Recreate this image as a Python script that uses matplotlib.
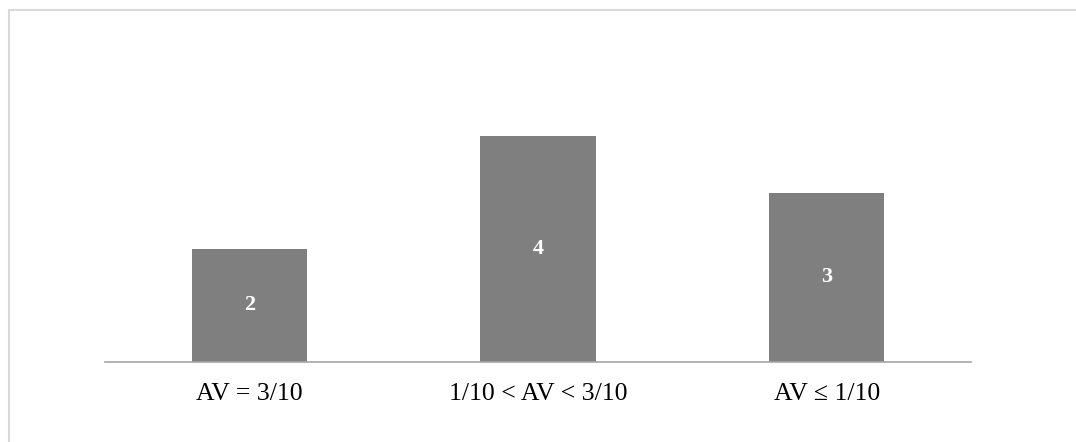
import matplotlib.pyplot as plt
from matplotlib.patches import Rectangle

# donnees
categories = ['AV = 3/10', '1/10 < AV < 3/10', 'AV ≤ 1/10']
valeurs = [2, 4, 3]

W, H = 1076, 442
fig = plt.figure(figsize=(W / 100, H / 100), dpi=100)

# cadre gris clair (seulement haut et gauche visibles)
fig.patches.append(Rectangle((9 / W, -0.1), 1.2, (H - 10) / H + 0.1,
                             transform=fig.transFigure, fill=False,
                             edgecolor='#d9d9d9', linewidth=1.5))

ax = fig.add_axes([105 / W, (H - 362) / H, 866 / W, 282.5 / H])
x = range(len(categories))
bars = ax.bar(x, valeurs, width=0.4, color='#7f7f7f')
ax.set_xlim(-0.5, len(categories) - 0.5)
ax.set_ylim(0, 5)

for b, v in zip(bars, valeurs):
    ax.text(b.get_x() + b.get_width() / 2, v / 2, str(v), ha='center', va='center',
            color='white', fontsize=16, fontweight='bold', family='Liberation Serif')

ax.set_xticks(list(x))
ax.set_xticklabels(categories, family=['Liberation Serif', 'DejaVu Serif'], fontsize=18.5)
ax.tick_params(axis='x', length=0, pad=15)
ax.set_yticks([])
for s in ['top', 'right', 'left']:
    ax.spines[s].set_visible(False)
ax.spines['bottom'].set_color('#a6a6a6')
ax.spines['bottom'].set_linewidth(1.2)

plt.savefig('out.png', dpi=100)
